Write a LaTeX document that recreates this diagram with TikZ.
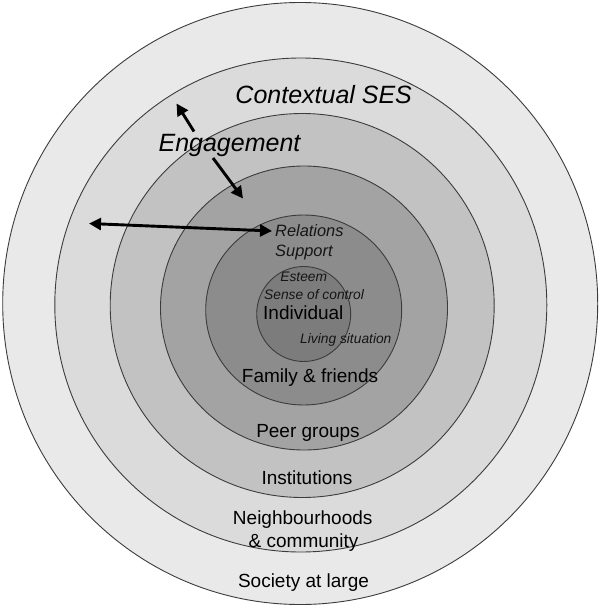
\documentclass[tikz,border=0pt]{standalone}
\usepackage{fontspec}
\setmainfont{Liberation Sans}
\usetikzlibrary{arrows.meta}
\definecolor{ringA}{HTML}{E9E9E9}
\definecolor{ringB}{HTML}{DBDBDB}
\definecolor{ringC}{HTML}{C2C2C2}
\definecolor{ringD}{HTML}{A3A3A3}
\definecolor{ringE}{HTML}{8C8C8C}
\definecolor{ringF}{HTML}{7C7C7C}
\definecolor{edgegray}{HTML}{3C3C3C}
\definecolor{txtdark}{HTML}{151515}
\tikzset{
  ring/.style={draw=edgegray, line width=0.9pt},
  biglabel/.style={anchor=base, inner sep=0pt, text=black, font=\fontsize{19}{22}\selectfont},
  toplabel/.style={anchor=base, inner sep=0pt, text=black, font=\fontsize{25}{30}\selectfont\itshape},
  sublabel/.style={anchor=base, inner sep=0pt, text=txtdark, font=\fontsize{16.4}{19}\selectfont\itshape},
  smalllabel/.style={anchor=base, inner sep=0pt, text=txtdark, font=\fontsize{13.8}{16}\selectfont\itshape},
  arr/.style={line width=2.9pt, -{Triangle[length=12pt,width=12pt]}},
  dblarr/.style={line width=2.9pt, {Triangle[length=12pt,width=12pt]}-{Triangle[length=12pt,width=12pt]}}
}
\begin{document}
\begin{tikzpicture}[x=1pt,y=-1pt]
\useasboundingbox (0,0) rectangle (600,607);
\fill[white] (0,0) rectangle (600,607);
% rings
\filldraw[ring, fill=ringA] (300.2,303.5) ellipse [x radius=297.5pt, y radius=301pt];
\filldraw[ring, fill=ringB] (300.8,305) ellipse [x radius=246pt, y radius=247pt];
\filldraw[ring, fill=ringC] (302.2,305.5) ellipse [x radius=192pt, y radius=192pt];
\filldraw[ring, fill=ringD] (304,308) ellipse [x radius=143.5pt, y radius=142pt];
\filldraw[ring, fill=ringE] (303.7,310) ellipse [x radius=98pt, y radius=95pt];
\filldraw[ring, fill=ringF] (303.7,314) ellipse [x radius=47pt, y radius=47.5pt];
% labels
\node[toplabel] (ses) at (323.7,104) {Contextual SES};
\node[toplabel] (eng) at (229.5,151) {Engagement};
\node[sublabel, anchor=base west] (rel) at (275,236.5) {Relations};
\node[sublabel, anchor=base west] (sup) at (275,256.6) {Support};
\node[smalllabel] (est) at (303.7,281) {Esteem};
\node[smalllabel] (soc) at (314,299.8) {Sense of control};
\node[biglabel] (ind) at (303.3,319) {Individual};
\node[smalllabel] (liv) at (345.8,343) {Living situation};
\node[biglabel] (fam) at (310,382.4) {Family \& friends};
\node[biglabel] (peer) at (308,437) {Peer groups};
\node[biglabel] (inst) at (307,484.7) {Institutions};
\node[biglabel] (nb) at (302.7,524.5) {Neighbourhoods};
\node[biglabel] (comm) at (303.6,547.3) {\& community};
\node[biglabel] (soc2) at (303.5,587.5) {Society at large};
% arrows
\coordinate (upS) at (194,131.5);
\coordinate (upE) at (176.5,103.5);
\coordinate (dnS) at (213,158);
\coordinate (dnE) at (243,198.5);
\coordinate (hL) at (89,223.5);
\coordinate (hR) at (272,231);
\draw[arr] (upS) -- (upE);
\draw[arr] (dnS) -- (dnE);
\draw[dblarr] (hL) -- (hR);
\end{tikzpicture}
\end{document}
